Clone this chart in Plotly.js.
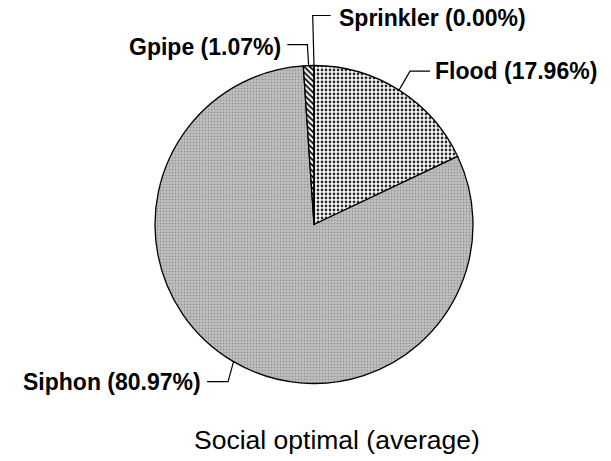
<!DOCTYPE html>
<html>
<head>
<meta charset="utf-8">
<script src="https://cdn.plot.ly/plotly-3.0.1.min.js"></script>
<style>html,body{margin:0;padding:0;background:#fff;}#chart{width:611px;height:461px;}</style>
</head>
<body>
<div id="chart"></div>
<script>
// ---- data ----
const categories = ['Flood', 'Siphon', 'Gpipe', 'Sprinkler'];
const shares = [17.96, 80.97, 1.07, 0.00];
const chartTitle = 'Social optimal (average)';

// ---- styles / layout (pixels) ----
const W = 611, H = 461;
const CX = 314, CY = 224.5, R = 159;
const patterns = {
  Flood:     {shape: '.',  bgcolor: '#ffffff', fgcolor: '#2a2a2a', size: 4, solidity: 0.38},
  Siphon:    {shape: '.',  bgcolor: '#c2c2c2', fgcolor: '#999999', size: 3, solidity: 0.35},
  Gpipe:     {shape: '\\', bgcolor: '#ffffff', fgcolor: '#000000', size: 4, solidity: 0.45},
  Sprinkler: {shape: '',   bgcolor: '#ffffff', fgcolor: '#000000', size: 4, solidity: 0.3}
};
// leader geometry: elbow offset from slice edge point, horizontal arm, text gap
const leaders = {
  Flood:     {edx: 11,   edy: -19, arm: 20,  gap: 3, tdy: 0},
  Siphon:    {edx: -5.5, edy: 20,  arm: -21, gap: 4, tdy: 0},
  Gpipe:     {edx: -1.3, edy: -21, arm: -20, gap: 4, tdy: 2.5},
  Sprinkler: {edx: -1.3, edy: -50, arm: 18,  gap: 6, tdy: 2.5}
};
const labelFont = {family: 'Liberation Sans, Arial, sans-serif', size: 23, color: '#000', weight: 'bold'};

const px = x => x / W;
const py = y => 1 - y / H;

const total = shares.reduce((a, b) => a + b, 0);
let cum = 0;
const shapes = [];
const annotations = [];
categories.forEach((c, i) => {
  const mid = (cum + shares[i] / 2) / total * 2 * Math.PI; // clockwise from top
  cum += shares[i];
  const ex = CX + R * Math.sin(mid);
  const ey = CY - R * Math.cos(mid);
  const L = leaders[c];
  const bx = ex + L.edx, by = ey + L.edy;
  const tx = bx + L.arm;
  shapes.push({
    type: 'path', xref: 'paper', yref: 'paper',
    path: `M ${px(ex)} ${py(ey)} L ${px(bx)} ${py(by)} L ${px(tx)} ${py(by)}`,
    line: {color: '#000', width: 1.2}
  });
  const right = L.arm > 0;
  annotations.push({
    xref: 'paper', yref: 'paper',
    x: px(tx + (right ? L.gap : -L.gap)), y: py(by + L.tdy),
    xanchor: right ? 'left' : 'right', yanchor: 'middle',
    text: `${c} (${shares[i].toFixed(2)}%)`,
    showarrow: false, font: labelFont
  });
});
annotations.push({
  xref: 'paper', yref: 'paper', x: px(336.5), y: py(440),
  xanchor: 'center', yanchor: 'middle', text: chartTitle, showarrow: false,
  font: {family: 'Liberation Sans, Arial, sans-serif', size: 26.5, color: '#000'}
});

const trace = {
  type: 'pie',
  labels: categories,
  values: shares,
  sort: false,
  direction: 'clockwise',
  rotation: 0,
  textinfo: 'none',
  hoverinfo: 'label+percent',
  showlegend: false,
  domain: {x: [px(CX - R), px(CX + R)], y: [py(CY + R), py(CY - R)]},
  marker: {
    colors: categories.map(c => patterns[c].bgcolor),
    pattern: {
      shape: categories.map(c => patterns[c].shape),
      bgcolor: categories.map(c => patterns[c].bgcolor),
      fgcolor: categories.map(c => patterns[c].fgcolor),
      size: categories.map(c => patterns[c].size),
      solidity: categories.map(c => patterns[c].solidity),
      fillmode: 'replace'
    },
    line: {color: '#000', width: 1.3}
  }
};

Plotly.newPlot('chart', [trace], {
  width: W, height: H,
  margin: {l: 0, r: 0, t: 0, b: 0},
  paper_bgcolor: '#fff', plot_bgcolor: '#fff',
  shapes: shapes, annotations: annotations
}, {staticPlot: true});
</script>
</body>
</html>
